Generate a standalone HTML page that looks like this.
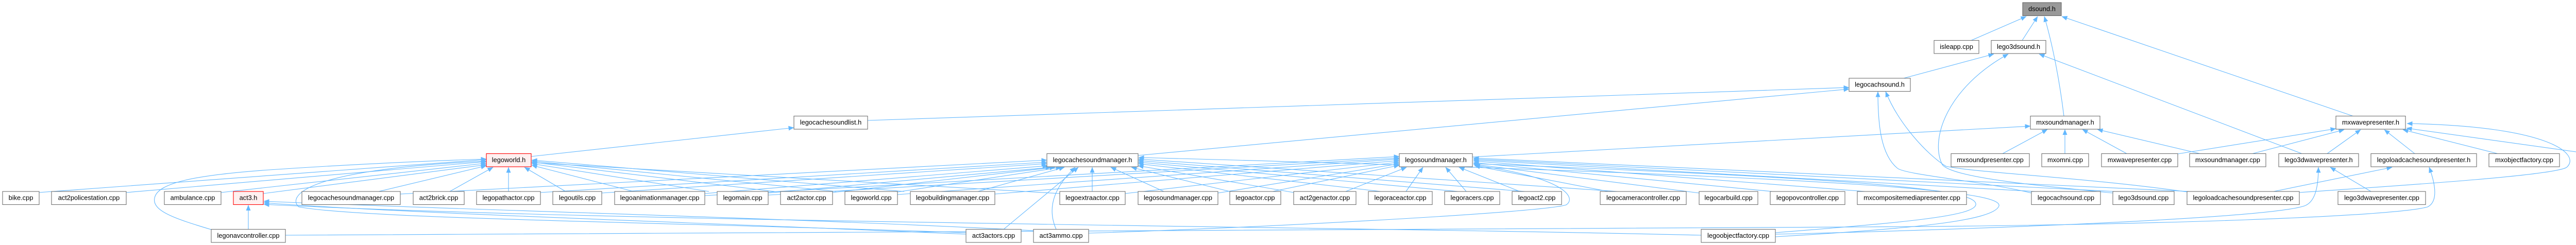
<!DOCTYPE html>
<html>
<head>
<meta charset="utf-8">
<style>
html,body{margin:0;padding:0;background:#fff;}
svg{display:block;}
text{font-family:"Liberation Sans",Arial,Helvetica,sans-serif;font-size:12.8px;fill:#000;text-anchor:middle;}
.e{fill:none;stroke:#63b8ff;stroke-width:1.1;marker-end:url(#m);}
.n{fill:#fff;stroke:#707070;stroke-width:1.1;}
.r{fill:#fff0f0;stroke:#ff0000;stroke-width:1.1;}
.g{fill:#999;stroke:#666;stroke-width:1.1;}
</style>
</head>
<body>
<svg width="5166" height="476" viewBox="0 0 5166 476" xmlns="http://www.w3.org/2000/svg">
<defs>
<marker id="m" viewBox="0 0 11 9" refX="10.5" refY="4.5" markerWidth="11" markerHeight="9" markerUnits="userSpaceOnUse" orient="auto">
<path d="M0,0 L11,4.5 L0,9 z" fill="#63b8ff"/>
</marker>
</defs>

<!-- ===== EDGES ===== -->
<!-- to dsound.h -->
<path class="e" d="M3826,78.5 L3933,32"/>
<path class="e" d="M3925,78.5 L3955,32"/>
<path class="e" d="M4006,225.5 C3998,160 3985,90 3968,32"/>
<path class="e" d="M4567,225.5 L4002,32"/>
<!-- to lego3dsound.h -->
<path class="e" d="M3695,152 L3870,105"/>
<path class="e" d="M4101,375 C3950,360 3790,345 3770,320 C3745,270 3780,170 3898,105"/>
<path class="e" d="M4468,298.5 L3958,105"/>
<!-- to legocachsound.h -->
<path class="e" d="M1684,234 L3589,170"/>
<path class="e" d="M2209,302 L3589,173"/>
<path class="e" d="M3943,375 C3850,352 3700,340 3683,327 C3650,300 3645,240 3645,178"/>
<path class="e" d="M4246,373 C4050,345 3830,335 3777,323 C3740,300 3685,240 3660,178"/>
<!-- legoworld.h -> legocachesoundlist.h -->
<path class="e" d="M1031,304 L1541,248"/>
<!-- to mxsoundmanager.h -->
<path class="e" d="M2858,305 L3941,245"/>
<path class="e" d="M3887,298.5 L3974,251.5"/>
<path class="e" d="M4008,298.5 L4008,251.5"/>
<path class="e" d="M4128,298.5 L4042,251.5"/>
<path class="e" d="M4270,298.5 L4071,251.5"/>
<!-- to mxwavepresenter.h -->
<path class="e" d="M4227,299 L4534,250"/>
<path class="e" d="M4372,298.5 L4550,252"/>
<path class="e" d="M4517,298.5 L4582,252"/>
<path class="e" d="M4687,298.5 L4628,252"/>
<path class="e" d="M4848,298.5 L4664,252"/>
<path class="e" d="M5043,301 L4671,249"/>
<path class="e" d="M4463,374 C4700,358 4960,340 4982,325 C5010,300 4950,245 4672,240"/>
<!-- to lego3dwavepresenter.h -->
<path class="e" d="M4602,372 L4523,325"/>
<path class="e" d="M3446,455 C3800,447 4400,425 4473,400 C4495,392 4500,360 4500,325"/>
<!-- to legoloadcachesoundpresenter.h -->
<path class="e" d="M4413,372 L4643,325"/>
<path class="e" d="M554,457 C1800,455 3000,444 3600,441 C4200,438 4650,420 4712,402 C4732,392 4728,360 4715,325"/>

<!-- to legoworld.h -->
<path class="e" d="M75,374 L944,310"/>
<path class="e" d="M245,374 L944,314"/>
<path class="e" d="M429,374 L944,317"/>
<path class="e" d="M511,376 L944,320"/>
<path class="e" d="M735,372 L944,322"/>
<path class="e" d="M873,372 L957,325"/>
<path class="e" d="M410,446 C340,425 295,410 300,385 C305,355 380,340 523,330 C700,318 850,312 944,309"/>
<path class="e" d="M987,372 L987,325"/>
<path class="e" d="M1098,372 L1018,325"/>
<path class="e" d="M1230,372 L1032,321"/>
<path class="e" d="M1376,372 L1032,318"/>
<path class="e" d="M1503,372 L1032,315"/>
<path class="e" d="M1623,372 L1032,313"/>
<path class="e" d="M1755,372 L1032,311"/>
<path class="e" d="M2057,376 L1032,316"/>
<path class="e" d="M1875,452 C1300,432 700,425 580,402 C560,385 575,330 944,313"/>

<!-- to legocachesoundmanager.h -->
<path class="e" d="M777,377 L2032,311"/>
<path class="e" d="M1049,374 L2032,315"/>
<path class="e" d="M1168,375 L2032,318"/>
<path class="e" d="M1368,376 L2034,322"/>
<path class="e" d="M1491,375 L2040,325"/>
<path class="e" d="M1616,374 L2048,325"/>
<path class="e" d="M1742,373 L2060,325"/>
<path class="e" d="M1898,372 L2066,325"/>
<path class="e" d="M2120,372 L2120,325"/>
<path class="e" d="M2259,372 L2156,325"/>
<path class="e" d="M2387,372 L2196,325"/>
<path class="e" d="M2511,374 L2209,322"/>
<path class="e" d="M2680,372 L2209,318"/>
<path class="e" d="M2830,372 L2209,315"/>
<path class="e" d="M2960,372 L2209,312"/>
<path class="e" d="M3140,372 L2209,309"/>
<path class="e" d="M1948,445.5 L2093,325"/>
<path class="e" d="M2050,445.5 C2030,400 2050,360 2087,325"/>
<path class="e" d="M3446,460 C3700,445 3870,430 3880,400 C3885,375 3700,345 2210,306"/>

<!-- to legosoundmanager.h -->
<path class="e" d="M1368,380 L2716,304"/>
<path class="e" d="M1491,379 L2716,307"/>
<path class="e" d="M1742,378 L2716,309"/>
<path class="e" d="M1931,377 L2716,312"/>
<path class="e" d="M2184,376 L2716,315"/>
<path class="e" d="M2364,375 L2716,318"/>
<path class="e" d="M2470,372 L2716,321"/>
<path class="e" d="M2612,372 L2730,325"/>
<path class="e" d="M2729,372 L2762,325"/>
<path class="e" d="M2846,372 L2806,325"/>
<path class="e" d="M2950,372 L2832,325"/>
<path class="e" d="M3122,372 L2862,322"/>
<path class="e" d="M3298,375 L2860,319"/>
<path class="e" d="M3440,372 L2860,316"/>
<path class="e" d="M3620,372 L2860,313"/>
<path class="e" d="M3950,372 L2860,311"/>
<path class="e" d="M4105,372 L2860,309"/>
<path class="e" d="M4250,372 L2860,307"/>
<path class="e" d="M2113,453 C2500,440 3000,412 3040,398 C3060,385 3040,345 2862,321"/>
<path class="e" d="M3446,452 C3700,432 3830,420 3835,398 C3840,372 3700,350 2860,318"/>

<!-- to act3.h -->
<path class="e" d="M482,445.5 L482,398.5"/>
<path class="e" d="M1875,455 C1300,430 800,415 512,394"/>
<path class="e" d="M2006,448 C1500,422 900,408 512,391"/>
<path class="e" d="M3302,457 C2600,440 1200,432 512,397"/>

<!-- ===== NODES ===== -->
<!-- Row 0 -->
<rect class="g" x="3926" y="5" width="75" height="25.5"/><text x="3963.5" y="21.3">dsound.h</text>
<!-- Row 1 -->
<rect class="n" x="3754" y="78.5" width="87" height="25.5"/><text x="3797.5" y="94.8">isleapp.cpp</text>
<rect class="n" x="3865" y="78.5" width="106" height="25.5"/><text x="3918" y="94.8">lego3dsound.h</text>
<!-- Row 2 -->
<rect class="n" x="3589" y="152" width="119" height="25.5"/><text x="3648.5" y="168.3">legocachsound.h</text>
<!-- Row 3 -->
<rect class="n" x="1541" y="225.5" width="143" height="25.5"/><text x="1612.5" y="241.8">legocachesoundlist.h</text>
<rect class="n" x="3941" y="225.5" width="135" height="25.5"/><text x="4008.5" y="241.8">mxsoundmanager.h</text>
<rect class="n" x="4534" y="225.5" width="135" height="25.5"/><text x="4601.5" y="241.8">mxwavepresenter.h</text>
<!-- Row 4 -->
<rect class="r" x="944" y="298.5" width="87" height="25.5"/><text x="987.5" y="314.8">legoworld.h</text>
<rect class="n" x="2032" y="298.5" width="177" height="25.5"/><text x="2120.5" y="314.8">legocachesoundmanager.h</text>
<rect class="n" x="2716" y="298.5" width="142" height="25.5"/><text x="2787" y="314.8">legosoundmanager.h</text>
<rect class="n" x="3787" y="298.5" width="152" height="25.5"/><text x="3863" y="314.8">mxsoundpresenter.cpp</text>
<rect class="n" x="3963" y="298.5" width="91" height="25.5"/><text x="4008.5" y="314.8">mxomni.cpp</text>
<rect class="n" x="4079" y="298.5" width="148" height="25.5"/><text x="4153" y="314.8">mxwavepresenter.cpp</text>
<rect class="n" x="4250" y="298.5" width="148" height="25.5"/><text x="4324" y="314.8">mxsoundmanager.cpp</text>
<rect class="n" x="4423" y="298.5" width="155" height="25.5"/><text x="4500.5" y="314.8">lego3dwavepresenter.h</text>
<rect class="n" x="4602" y="298.5" width="205" height="25.5"/><text x="4704.5" y="314.8">legoloadcachesoundpresenter.h</text>
<rect class="n" x="4831" y="298.5" width="137" height="25.5"/><text x="4899.5" y="314.8">mxobjectfactory.cpp</text>
<rect class="n" x="5043" y="298.5" width="118" height="25.5"/><text x="5102" y="314.8">mxpresenter.cpp</text>
<!-- Row 5 -->
<rect class="n" x="5" y="372" width="71" height="25.5"/><text x="40.5" y="388.3">bike.cpp</text>
<rect class="n" x="100" y="372" width="145" height="25.5"/><text x="172.5" y="388.3">act2policestation.cpp</text>
<rect class="n" x="319" y="372" width="110" height="25.5"/><text x="374" y="388.3">ambulance.cpp</text>
<rect class="r" x="453" y="372" width="58" height="25.5"/><text x="482" y="388.3">act3.h</text>
<rect class="n" x="586" y="372" width="191" height="25.5"/><text x="681.5" y="388.3">legocachesoundmanager.cpp</text>
<rect class="n" x="802" y="372" width="99" height="25.5"/><text x="851.5" y="388.3">act2brick.cpp</text>
<rect class="n" x="925" y="372" width="124" height="25.5"/><text x="987" y="388.3">legopathactor.cpp</text>
<rect class="n" x="1073" y="372" width="95" height="25.5"/><text x="1120.5" y="388.3">legoutils.cpp</text>
<rect class="n" x="1193" y="372" width="175" height="25.5"/><text x="1280.5" y="388.3">legoanimationmanager.cpp</text>
<rect class="n" x="1392" y="372" width="99" height="25.5"/><text x="1441.5" y="388.3">legomain.cpp</text>
<rect class="n" x="1515" y="372" width="101" height="25.5"/><text x="1565.5" y="388.3">act2actor.cpp</text>
<rect class="n" x="1640" y="372" width="102" height="25.5"/><text x="1691" y="388.3">legoworld.cpp</text>
<rect class="n" x="1767" y="372" width="164" height="25.5"/><text x="1849" y="388.3">legobuildingmanager.cpp</text>
<rect class="n" x="2057" y="372" width="127" height="25.5"/><text x="2120.5" y="388.3">legoextraactor.cpp</text>
<rect class="n" x="2209" y="372" width="155" height="25.5"/><text x="2286.5" y="388.3">legosoundmanager.cpp</text>
<rect class="n" x="2387" y="372" width="99" height="25.5"/><text x="2436.5" y="388.3">legoactor.cpp</text>
<rect class="n" x="2511" y="372" width="121" height="25.5"/><text x="2571.5" y="388.3">act2genactor.cpp</text>
<rect class="n" x="2656" y="372" width="124" height="25.5"/><text x="2718" y="388.3">legoraceactor.cpp</text>
<rect class="n" x="2804" y="372" width="107" height="25.5"/><text x="2857.5" y="388.3">legoracers.cpp</text>
<rect class="n" x="2935" y="372" width="96" height="25.5"/><text x="2983" y="388.3">legoact2.cpp</text>
<rect class="n" x="3106" y="372" width="167" height="25.5"/><text x="3189.5" y="388.3">legocameracontroller.cpp</text>
<rect class="n" x="3298" y="372" width="114" height="25.5"/><text x="3355" y="388.3">legocarbuild.cpp</text>
<rect class="n" x="3436" y="372" width="145" height="25.5"/><text x="3508.5" y="388.3">legopovcontroller.cpp</text>
<rect class="n" x="3605" y="372" width="212" height="25.5"/><text x="3711" y="388.3">mxcompositemediapresenter.cpp</text>
<rect class="n" x="3943" y="372" width="134" height="25.5"/><text x="4010" y="388.3">legocachsound.cpp</text>
<rect class="n" x="4101" y="372" width="119" height="25.5"/><text x="4160.5" y="388.3">lego3dsound.cpp</text>
<rect class="n" x="4245" y="372" width="218" height="25.5"/><text x="4354" y="388.3">legoloadcachesoundpresenter.cpp</text>
<rect class="n" x="4538" y="372" width="170" height="25.5"/><text x="4623" y="388.3">lego3dwavepresenter.cpp</text>
<!-- Row 6 -->
<rect class="n" x="410" y="445.5" width="144" height="25.5"/><text x="482" y="461.8">legonavcontroller.cpp</text>
<rect class="n" x="1875" y="445.5" width="107" height="25.5"/><text x="1928.5" y="461.8">act3actors.cpp</text>
<rect class="n" x="2006" y="445.5" width="107" height="25.5"/><text x="2059.5" y="461.8">act3ammo.cpp</text>
<rect class="n" x="3302" y="445.5" width="144" height="25.5"/><text x="3374" y="461.8">legoobjectfactory.cpp</text>
</svg>
</body>
</html>
